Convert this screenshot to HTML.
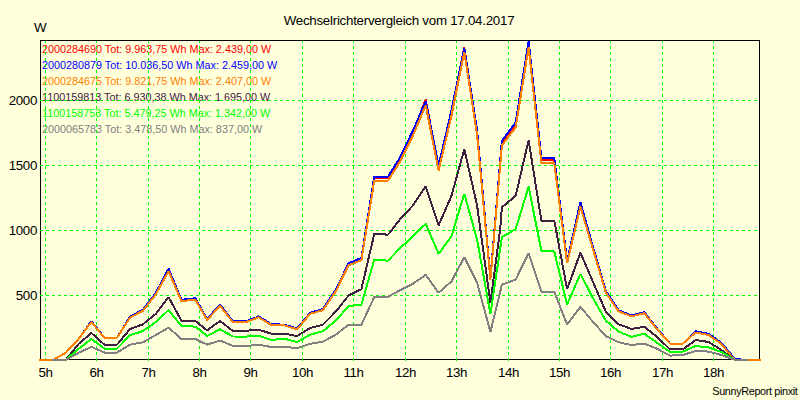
<!DOCTYPE html>
<html><head><meta charset="utf-8"><title>Wechselrichtervergleich</title>
<style>
html,body{margin:0;padding:0;background:#ffffdc;}
body{width:800px;height:400px;overflow:hidden;font-family:"Liberation Sans",sans-serif;}
svg{display:block;font-family:"Liberation Sans",sans-serif;}
.ax text{font-size:13.33px;fill:#000;letter-spacing:-0.35px;}
.lg text{font-size:10.8px;}
</style></head><body>
<svg width="800" height="400" viewBox="0 0 800 400">
<rect x="0" y="0" width="800" height="400" fill="#ffffdc"/>
<g class="lg"><text x="42" y="53" fill="#ff0000">2000284690 Tot: 9.963,75 Wh Max: 2.439,00 W</text><text x="42" y="69" fill="#0000ff">2000280879 Tot: 10.036,50 Wh Max: 2.459,00 W</text><text x="42" y="85" fill="#ff8000">2000284675 Tot: 9.821,75 Wh Max: 2.407,00 W</text><text x="42" y="101" fill="#402040">1100159813 Tot: 6.930,38 Wh Max: 1.695,00 W</text><text x="42" y="117" fill="#00ff00">1100158753 Tot: 5.479,25 Wh Max: 1.342,00 W</text><text x="42" y="133" fill="#808080">2000065783 Tot: 3.478,50 Wh Max: 837,00 W</text></g>
<path d="M40.5 40V360M40 359.5H760" fill="none" stroke="#000" stroke-width="1" shape-rendering="crispEdges"/>
<g stroke="#00ff00" stroke-width="1" stroke-dasharray="3 3" shape-rendering="crispEdges"><line x1="45.5" y1="40" x2="45.5" y2="361"/><line x1="96.5" y1="40" x2="96.5" y2="361"/><line x1="148.5" y1="40" x2="148.5" y2="361"/><line x1="199.5" y1="40" x2="199.5" y2="361"/><line x1="250.5" y1="40" x2="250.5" y2="361"/><line x1="302.5" y1="40" x2="302.5" y2="361"/><line x1="353.5" y1="40" x2="353.5" y2="361"/><line x1="405.5" y1="40" x2="405.5" y2="361"/><line x1="456.5" y1="40" x2="456.5" y2="361"/><line x1="508.5" y1="40" x2="508.5" y2="361"/><line x1="559.5" y1="40" x2="559.5" y2="361"/><line x1="610.5" y1="40" x2="610.5" y2="361"/><line x1="662.5" y1="40" x2="662.5" y2="361"/><line x1="713.5" y1="40" x2="713.5" y2="361"/><line x1="40" y1="100.5" x2="760" y2="100.5"/><line x1="40" y1="165.5" x2="760" y2="165.5"/><line x1="40" y1="230.5" x2="760" y2="230.5"/><line x1="40" y1="295.5" x2="760" y2="295.5"/></g>
<path d="M40 40.5H760M759.5 40V360" fill="none" stroke="#000" stroke-width="1" shape-rendering="crispEdges"/>
<g fill="none" stroke-width="2" stroke-linejoin="bevel" stroke-linecap="square" shape-rendering="crispEdges">
<polyline points="40.0,360.0 52.9,360.0 65.7,352.8 78.6,339.0 91.4,322.0 104.3,337.7 117.1,337.7 130.0,317.5 142.9,310.1 155.7,293.5 168.6,270.0 181.4,300.3 195.3,298.8 207.1,320.0 220.0,305.0 232.9,322.2 245.7,322.2 258.6,317.3 271.4,325.1 284.3,325.3 297.1,329.3 310.0,313.3 322.9,309.4 335.7,290.6 348.6,263.9 361.4,258.9 374.3,178.1 388.1,178.1 400.0,159.2 412.9,132.6 425.7,99.3 438.6,167.2 451.4,112.8 464.3,47.3 477.1,132.0 490.4,278.4 501.9,142.5 515.7,124.3 528.6,43.5 541.4,160.2 554.3,160.2 567.1,261.9 580.4,204.7 592.9,247.5 605.7,291.3 618.6,310.8 631.4,316.3 644.3,312.7 657.1,329.2 670.0,343.6 682.9,343.6 695.7,332.4 708.6,335.0 721.4,344.0 734.3,359.6 747.1,360.0 760.0,360.0" stroke="#ff0000"/>
<polyline points="40.0,360.0 52.9,360.0 65.7,352.8 78.6,339.0 91.4,321.2 104.3,337.7 117.1,337.7 130.0,316.6 142.9,309.7 155.7,293.0 168.6,268.6 181.4,299.8 195.3,298.3 207.1,319.1 220.0,304.5 232.9,321.4 245.7,321.4 258.6,316.4 271.4,324.3 284.3,324.6 297.1,328.6 310.0,312.9 322.9,309.0 335.7,290.0 348.6,263.2 361.4,258.0 374.3,176.6 388.1,176.6 400.0,157.5 412.9,130.8 425.7,101.3 438.6,165.6 451.4,110.7 464.3,48.3 477.1,130.1 490.4,277.8 501.9,140.8 515.7,122.4 528.6,41.3 541.4,157.9 554.3,157.9 567.1,261.1 580.4,202.2 592.9,246.6 605.7,290.7 618.6,310.4 631.4,315.4 644.3,312.3 657.1,328.5 670.0,343.6 682.9,343.6 695.7,331.2 708.6,333.8 721.4,342.8 734.3,358.4 740.7,360.0" stroke="#0000ff"/>
<polyline points="40.0,360.0 52.9,360.0 65.7,352.8 78.6,339.0 91.4,322.0 104.3,337.7 117.1,337.7 130.0,317.5 142.9,310.8 155.7,294.4 168.6,271.2 181.4,301.1 195.3,299.6 207.1,320.0 220.0,305.7 232.9,322.2 245.7,322.2 258.6,317.3 271.4,325.1 284.3,325.3 297.1,329.3 310.0,313.9 322.9,310.1 335.7,291.5 348.6,265.2 361.4,260.2 374.3,180.5 388.1,180.5 400.0,161.8 412.9,135.6 425.7,105.3 438.6,170.5 451.4,116.0 464.3,51.8 477.1,135.0 490.4,279.5 501.9,145.4 515.7,127.4 528.6,47.3 541.4,163.2 554.3,163.2 567.1,263.2 580.4,206.7 592.9,249.0 605.7,292.2 618.6,311.4 631.4,316.3 644.3,313.3 657.1,329.2 670.0,343.6 682.9,343.6 695.7,332.4 708.6,335.0 721.4,344.0 734.3,359.6 747.1,360.0 760.0,360.0" stroke="#ff8000"/>
<polyline points="52.9,360.0 65.7,360.0 78.6,343.9 91.4,333.0 104.3,344.6 117.1,344.6 130.0,329.0 142.9,324.3 155.7,314.0 168.6,297.1 181.4,320.7 195.3,321.0 207.1,330.4 220.0,321.0 232.9,330.9 245.7,330.8 258.6,329.7 271.4,333.7 284.3,333.7 297.1,336.0 310.0,328.1 322.9,324.7 335.7,311.7 348.6,295.5 361.4,289.2 374.3,233.7 388.1,234.7 400.0,219.3 412.9,205.5 425.7,186.3 438.6,225.3 451.4,196.0 464.3,149.2 477.1,205.5 490.4,302.7 500.2,229.0 501.9,207.3 515.7,195.7 528.6,140.2 541.4,220.7 554.3,220.7 567.1,289.2 580.4,252.7 592.9,281.7 605.7,311.4 618.6,324.3 631.4,328.9 644.3,326.8 657.1,336.9 670.0,349.4 682.9,349.4 695.7,340.0 708.6,342.0 721.4,350.0 734.3,359.6 747.1,360.0" stroke="#402040"/>
<polyline points="52.9,360.0 65.7,360.0 78.6,348.8 91.4,339.0 104.3,348.5 117.1,348.5 130.0,335.2 142.9,331.1 155.7,322.1 168.6,310.1 181.4,325.9 195.3,326.6 207.1,336.0 220.0,329.3 232.9,336.5 245.7,336.6 258.6,335.8 271.4,339.9 284.3,338.7 297.1,342.0 310.0,334.8 322.9,331.2 335.7,320.7 348.6,306.0 361.4,304.6 374.3,259.5 388.1,260.7 400.0,248.2 412.9,236.2 425.7,223.8 438.6,253.8 451.4,236.5 464.3,193.8 477.1,239.5 490.4,314.0 501.9,237.2 515.7,229.0 528.6,186.7 541.4,251.0 554.3,251.5 567.1,304.5 580.4,274.0 592.9,298.0 605.7,320.5 618.6,331.6 631.4,336.8 644.3,333.8 657.1,342.8 670.0,352.0 682.9,351.6 695.7,346.0 708.6,347.4 721.4,352.0 734.3,359.6 747.1,360.0" stroke="#00ff00"/>
<polyline points="52.9,360.0 65.7,360.0 78.6,352.8 91.4,346.8 104.3,352.5 117.1,352.5 130.0,344.7 142.9,342.3 155.7,335.0 168.6,327.7 181.4,339.0 195.3,339.0 207.1,344.6 220.0,340.5 232.9,346.0 245.7,346.0 258.6,344.8 271.4,347.0 284.3,347.0 297.1,348.0 310.0,343.9 322.9,341.6 335.7,334.8 348.6,324.6 361.4,324.6 374.3,297.0 388.1,296.7 400.0,290.2 412.9,283.8 425.7,274.8 438.6,292.8 451.4,281.5 464.3,257.2 477.1,282.5 490.4,332.0 501.9,284.7 515.7,279.5 528.6,253.0 541.4,291.8 554.3,291.8 567.1,324.7 580.4,306.9 592.9,321.7 605.7,336.0 618.6,342.3 631.4,345.0 644.3,343.7 657.1,348.8 670.0,355.6 682.9,355.0 695.7,351.0 708.6,351.6 721.4,355.0 734.3,359.6 747.1,360.0" stroke="#808080"/>
<line x1="735.5" y1="358.5" x2="740.5" y2="358.5" stroke="#0000ff" stroke-width="1"/>
</g>
<g class="ax">
<text x="399" y="25" text-anchor="middle" style="letter-spacing:-0.26px">Wechselrichtervergleich vom 17.04.2017</text>
<text x="34" y="32">W</text>
<text x="45.5" y="376.5" text-anchor="middle">5h</text><text x="96.5" y="376.5" text-anchor="middle">6h</text><text x="148.5" y="376.5" text-anchor="middle">7h</text><text x="199.5" y="376.5" text-anchor="middle">8h</text><text x="250.5" y="376.5" text-anchor="middle">9h</text><text x="302.5" y="376.5" text-anchor="middle">10h</text><text x="353.5" y="376.5" text-anchor="middle">11h</text><text x="405.5" y="376.5" text-anchor="middle">12h</text><text x="456.5" y="376.5" text-anchor="middle">13h</text><text x="508.5" y="376.5" text-anchor="middle">14h</text><text x="559.5" y="376.5" text-anchor="middle">15h</text><text x="610.5" y="376.5" text-anchor="middle">16h</text><text x="662.5" y="376.5" text-anchor="middle">17h</text><text x="713.5" y="376.5" text-anchor="middle">18h</text><text x="37" y="105" text-anchor="end">2000</text><text x="37" y="170" text-anchor="end">1500</text><text x="37" y="235" text-anchor="end">1000</text><text x="37" y="300" text-anchor="end">500</text>
<text x="797.5" y="395" text-anchor="end" style="font-size:10.83px">SunnyReport pinxit</text>
</g>
</svg>
</body></html>
